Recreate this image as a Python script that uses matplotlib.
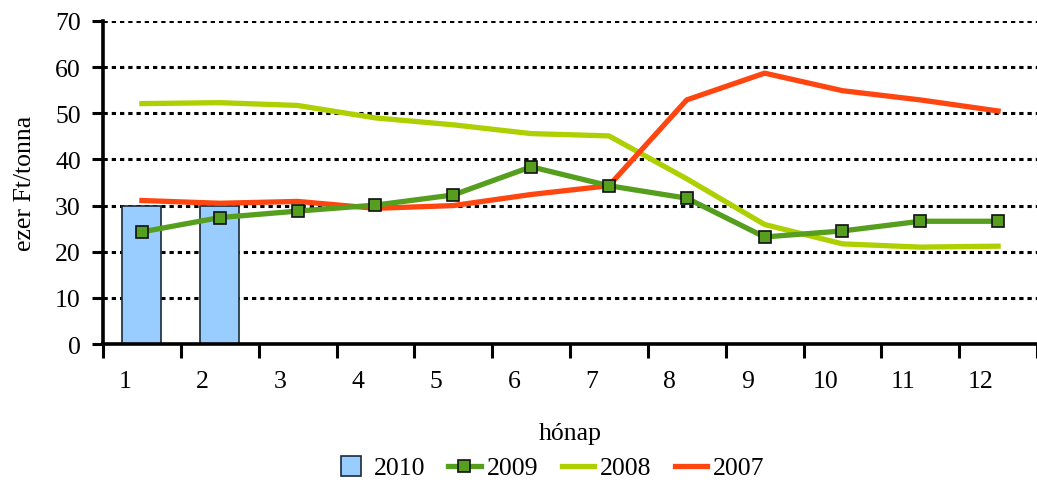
import numpy as np
import matplotlib
matplotlib.use('Agg')
import matplotlib.pyplot as plt
from matplotlib.lines import Line2D

plt.rcParams['font.family'] = ['Liberation Serif', 'DejaVu Serif']

# data (ezer Ft/tonna per month)
months = ['1', '2', '3', '4', '5', '6', '7', '8', '9', '10', '11', '12']
y2010 = [30.0, 30.0]
y2009 = [24.3, 27.4, 28.8, 30.1, 32.3, 38.4, 34.3, 31.6, 23.2, 24.5, 26.6, 26.6]
y2008 = [52.1, 52.3, 51.7, 49.0, 47.5, 45.6, 45.1, 35.8, 25.9, 21.7, 21.0, 21.2]
y2007 = [31.1, 30.5, 30.9, 29.4, 30.0, 32.4, 34.3, 52.9, 58.7, 54.9, 52.9, 50.5]

c2010 = '#99ccff'
c2009 = '#559e1e'
c2008 = '#aecf00'
c2007 = '#ff4611'
fs = 18.5

fig = plt.figure(figsize=(10.37, 4.85), dpi=100)
ax = fig.add_axes([103/1037, 1 - 345/485, 1 - 103/1037, (345 - 22)/485])

x = np.arange(len(months)) + 0.5

ax.bar(x[:len(y2010)], y2010, width=0.5, color=c2010, edgecolor='#1a2a3a', linewidth=1.2, zorder=3)
ax.plot(x, y2008, color=c2008, linewidth=3.8, zorder=4)
ax.plot(x, y2007, color=c2007, linewidth=3.8, zorder=5)
ax.plot(x, y2009, color=c2009, linewidth=3.8, marker='s', markersize=8.5,
        markerfacecolor=c2009, markeredgecolor='#111111', markeredgewidth=1.2, zorder=6)

ax.set_xlim(0, 12)
ax.set_ylim(0, 70)
ax.set_yticks(range(0, 71, 10))
ax.tick_params(axis='y', direction='out', length=8, width=2.2, labelsize=fs, pad=8)
ax.set_xticks(range(0, 13))
ax.set_xticklabels([])
ax.set_xticks(np.arange(len(months)) + 0.28, minor=True)
ax.set_xticklabels(months, minor=True)
ax.tick_params(axis='x', which='major', direction='out', length=10, width=2.2)
ax.tick_params(axis='x', which='minor', length=0, labelsize=fs, pad=19)

for yv in range(10, 71, 10):
    ax.axhline(yv, color='black', linewidth=2.2, linestyle=(0, (1.4, 1.3)), zorder=1)

for s in ['top', 'right']:
    ax.spines[s].set_visible(False)
for s in ['left', 'bottom']:
    ax.spines[s].set_linewidth(2.6)
    ax.spines[s].set_zorder(7)

ax.set_ylabel('ezer Ft/tonna', fontsize=fs, labelpad=14)
ax.set_xlabel('hónap', fontsize=fs, labelpad=21)

handles = [
    Line2D([], [], linestyle='none', marker='s', markersize=14,
           markerfacecolor=c2010, markeredgecolor='#1a2a3a', markeredgewidth=1.2),
    Line2D([], [], color=c2009, linewidth=3.8, marker='s', markersize=8.5,
           markerfacecolor=c2009, markeredgecolor='#111111', markeredgewidth=1.2),
    Line2D([], [], color=c2008, linewidth=3.8),
    Line2D([], [], color=c2007, linewidth=3.8),
]
fig.legend(handles, ['2010', '2009', '2008', '2007'], loc='center',
           bbox_to_anchor=(550/1037, 1 - 469/485), ncol=4, frameon=False,
           fontsize=fs, handlelength=1.25, handletextpad=0.25, columnspacing=0.9,
           borderaxespad=0)

fig.savefig('out.png', dpi=100)
